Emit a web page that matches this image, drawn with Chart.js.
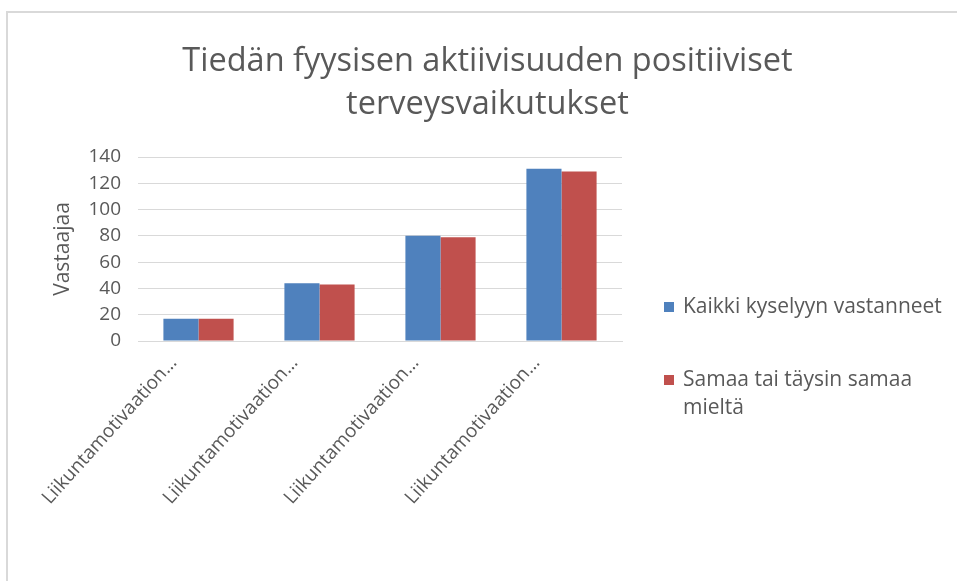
<!DOCTYPE html>
<html>
<head>
<meta charset="utf-8">
<script src="https://cdn.jsdelivr.net/npm/chart.js@4/dist/chart.umd.min.js"></script>
<style>
html, body { margin: 0; padding: 0; background: #fff; overflow: hidden; }
#frame { position: absolute; left: 6px; top: 11px; width: 1000px; height: 1000px;
         border-left: 2px solid #d9d9d9; border-top: 2px solid #d9d9d9; }
#wrap { position: absolute; left: 0; top: 0; width: 957px; height: 581px; }
</style>
</head>
<body>
<div id="frame"></div>
<div id="wrap"><canvas id="chart"></canvas></div>
<script>
// Data
var categories = ['Liikuntamotivaation…', 'Liikuntamotivaation…', 'Liikuntamotivaation…', 'Liikuntamotivaation…'];
var allRespondents = [17, 44, 80, 131];
var agreeRespondents = [17, 43, 79, 129];
var seriesNames = ['Kaikki kyselyyn vastanneet', 'Samaa tai täysin samaa mieltä'];
var titleLines = ['Tiedän fyysisen aktiivisuuden positiiviset', 'terveysvaikutukset'];
var yTicks = [0, 20, 40, 60, 80, 100, 120, 140];

var textColor = '#595959';
var fontFamily = '"Open Sans", "Liberation Sans", sans-serif';

// Title centred on the whole picture, not just the plot area
var wideTitle = {
    id: 'wideTitle',
    afterDraw: function(chart) {
        var ctx = chart.ctx;
        ctx.save();
        ctx.font = '32.5px ' + fontFamily;
        ctx.fillStyle = textColor;
        ctx.textAlign = 'center';
        ctx.textBaseline = 'middle';
        titleLines.forEach(function(l, i) {
            ctx.fillText(l, chart.width / 2 + 9, 62 + i * 43);
        });
        ctx.restore();
    }
};

// Legend on the right, wrapping long names like the original
var sideLegend = {
    id: 'sideLegend',
    afterDraw: function(chart) {
        var ctx = chart.ctx;
        var x = 664, y = 307, maxW = 265, lineH = 28;
        ctx.save();
        ctx.font = '21px ' + fontFamily;
        ctx.textBaseline = 'middle';
        chart.data.datasets.forEach(function(ds) {
            var words = ds.label.split(' ');
            var lines = [], cur = '';
            words.forEach(function(w) {
                var test = cur ? cur + ' ' + w : w;
                if (ctx.measureText(test).width > maxW && cur) {
                    lines.push(cur);
                    cur = w;
                } else {
                    cur = test;
                }
            });
            lines.push(cur);
            ctx.fillStyle = ds.backgroundColor;
            ctx.fillRect(x, y - 5, 10, 10);
            ctx.fillStyle = textColor;
            lines.forEach(function(l, i) {
                ctx.fillText(l, x + 19, y + i * lineH);
            });
            y += lines.length * lineH + 45;
        });
        ctx.restore();
    }
};

new Chart(document.getElementById('chart'), {
    type: 'bar',
    data: {
        labels: categories,
        datasets: [
            { label: seriesNames[0], data: allRespondents, backgroundColor: '#4f81bd' },
            { label: seriesNames[1], data: agreeRespondents, backgroundColor: '#c0504d' }
        ]
    },
    options: {
        responsive: true,
        maintainAspectRatio: false,
        animation: false,
        layout: { padding: { top: 157, right: 335, bottom: 0, left: 0 } },
        datasets: { bar: { categoryPercentage: 0.58, barPercentage: 1.0 } },
        plugins: {
            legend: { display: false },
            tooltip: { enabled: false },
            title: { display: false }
        },
        scales: {
            x: {
                grid: { display: false },
                border: { display: true, color: '#d9d9d9', width: 1 },
                ticks: {
                    color: textColor,
                    font: { family: fontFamily, size: 19 },
                    maxRotation: 48,
                    minRotation: 48,
                    labelOffset: -25,
                    padding: 3
                },
                afterFit: function(scale) { scale.height = 240; }
            },
            y: {
                min: 0,
                max: yTicks[yTicks.length - 1],
                afterBuildTicks: function(scale) {
                    scale.ticks = yTicks.map(function(v) { return { value: v }; });
                },
                grid: { color: '#d9d9d9', tickLength: 0 },
                border: { display: false },
                ticks: {
                    color: textColor,
                    font: { family: fontFamily, size: 19 },
                    padding: 17
                },
                title: {
                    display: true,
                    text: 'Vastaajaa',
                    color: textColor,
                    font: { family: fontFamily, size: 21 },
                    padding: { top: 50, bottom: 0 }
                },
                afterFit: function(scale) { scale.width = 138; }
            }
        }
    },
    plugins: [wideTitle, sideLegend]
});
</script>
</body>
</html>
